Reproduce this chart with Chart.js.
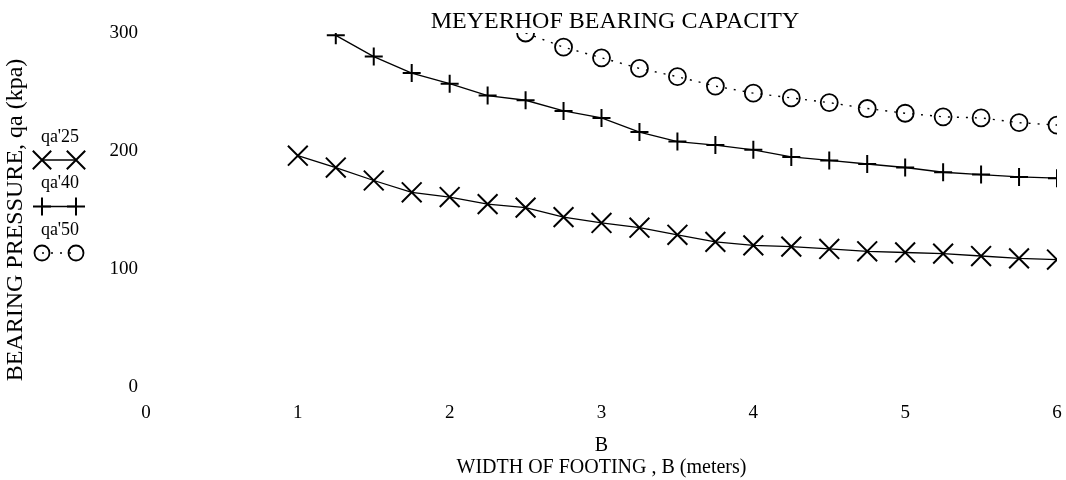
<!DOCTYPE html>
<html>
<head>
<meta charset="utf-8">
<title>Meyerhof bearing capacity</title>
<script src="https://cdn.jsdelivr.net/npm/chart.js@4.4.1/dist/chart.umd.min.js"></script>
<style>
html, body { margin: 0; padding: 0; background: #fff; overflow: hidden; }
#wrap { width: 1066px; height: 480px; position: relative; }
</style>
</head>
<body>
<div id="wrap"><canvas id="meyerhofChart"></canvas></div>
<script>
// footing width B (m)
var widths = [1, 1.25, 1.5, 1.75, 2, 2.25, 2.5, 2.75, 3, 3.25, 3.5, 3.75, 4, 4.25, 4.5, 4.75, 5, 5.25, 5.5, 5.75, 6];

// allowable bearing pressure qa (kpa)
var qa25 = [196, 186, 175, 165, 161, 155, 152, 144, 139, 135, 129, 123, 120, 119, 117, 115, 114, 113, 111, 109, 108];
var qa40 = [null, 298, 280, 266, 257, 247, 243, 234, 228, 216, 208, 205, 201, 195, 192, 189, 186, 182, 180, 178, 177];
var qa50 = [null, null, null, null, null, null, 300, 288, 279, 270, 263, 255, 249, 245, 241, 236, 232, 229, 228, 224, 222];

var xTicks = [0, 1, 2, 3, 4, 5, 6];
var yTicks = [0, 100, 200, 300];

var chartTitle = 'MEYERHOF BEARING CAPACITY';
var yTitle = 'BEARING PRESSURE, qa (kpa)';

var serif = '"Liberation Serif", "Times New Roman", serif';

function toPoints(values) {
    return widths.map(function(b, i) {
        return { x: b, y: values[i] };
    });
}

// titles + legend drawn by hand: the legend sits between the y title and the tick labels
var sideText = {
    id: 'sideText',
    afterDraw: function(chart) {
        var ctx = chart.ctx;
        ctx.save();
        ctx.fillStyle = '#000';
        ctx.textAlign = 'center';
        ctx.textBaseline = 'middle';

        ctx.font = '24px ' + serif;
        ctx.fillText(chartTitle, 615, 22);

        ctx.save();
        ctx.translate(16, 220);
        ctx.rotate(-Math.PI / 2);
        ctx.fillText(yTitle, 0, 0);
        ctx.restore();

        chart.data.datasets.forEach(function(ds, i) {
            var top = 137 + i * 46.5;
            var my = top + 23;
            ctx.fillStyle = '#000';
            ctx.font = '18px ' + serif;
            ctx.fillText(ds.label, 60, top);

            ctx.strokeStyle = '#000';
            ctx.lineWidth = ds.borderWidth;
            ctx.setLineDash(ds.borderDash || []);
            ctx.beginPath();
            ctx.moveTo(42, my);
            ctx.lineTo(76, my);
            ctx.stroke();
            ctx.setLineDash([]);

            ctx.fillStyle = 'rgba(0,0,0,0)';
            var opts = { pointStyle: ds.pointStyle, radius: ds.legendRadius, borderWidth: ds.pointBorderWidth, rotation: 0 };
            ctx.lineWidth = ds.pointBorderWidth;
            Chart.helpers.drawPoint(ctx, opts, 42, my);
            Chart.helpers.drawPoint(ctx, opts, 76, my);
        });
        ctx.restore();
    }
};

var ctxMeyerhof = document.getElementById('meyerhofChart');

var meyerhofChart = new Chart(ctxMeyerhof, {
    type: 'line',
    data: {
        datasets: [
            {
                label: "qa'25",
                data: toPoints(qa25),
                borderColor: '#000',
                borderWidth: 1.3,
                pointStyle: 'crossRot',
                pointRadius: 14,
                legendRadius: 13,
                pointBorderWidth: 2,
                pointBorderColor: '#000',
                pointBackgroundColor: 'rgba(0,0,0,0)',
                clip: 0
            },
            {
                label: "qa'40",
                data: toPoints(qa40),
                borderColor: '#000',
                borderWidth: 1.3,
                pointStyle: 'cross',
                pointRadius: 9,
                legendRadius: 9,
                pointBorderWidth: 2,
                pointBorderColor: '#000',
                pointBackgroundColor: 'rgba(0,0,0,0)',
                clip: 0
            },
            {
                label: "qa'50",
                data: toPoints(qa50),
                borderColor: '#000',
                borderWidth: 1.4,
                borderDash: [2, 7],
                pointStyle: 'circle',
                pointRadius: 8.5,
                legendRadius: 7.5,
                pointBorderWidth: 1.8,
                pointBorderColor: '#000',
                pointBackgroundColor: 'rgba(0,0,0,0)',
                clip: 0
            }
        ]
    },
    options: {
        responsive: true,
        maintainAspectRatio: false,
        animation: false,
        spanGaps: false,
        layout: {
            autoPadding: false,
            padding: { left: 0, right: 9, top: 33, bottom: 0 }
        },
        plugins: {
            legend: { display: false },
            tooltip: { enabled: false },
            title: { display: false }
        },
        scales: {
            x: {
                type: 'linear',
                min: 0,
                max: 6,
                afterBuildTicks: function(scale) {
                    scale.ticks = xTicks.map(function(v) { return { value: v }; });
                },
                afterFit: function(scale) {
                    scale.height = 93;
                },
                grid: { display: false, drawTicks: false },
                border: { display: false },
                ticks: {
                    color: '#000',
                    padding: 0,
                    maxRotation: 0,
                    // tall line box pushes the labels down without widening the right margin
                    font: { family: serif, size: 19, lineHeight: '52px' }
                },
                title: {
                    display: true,
                    text: ['B', 'WIDTH OF FOOTING , B (meters)'],
                    color: '#000',
                    font: { family: serif, size: 20, lineHeight: '22px' },
                    padding: { top: 0, bottom: 1 }
                }
            },
            y: {
                type: 'linear',
                min: 0,
                max: 300,
                afterBuildTicks: function(scale) {
                    scale.ticks = yTicks.map(function(v) { return { value: v }; });
                },
                afterFit: function(scale) {
                    scale.width = 146;
                },
                grid: { display: false, drawTicks: false },
                border: { display: false },
                ticks: {
                    color: '#000',
                    padding: 8,
                    font: { family: serif, size: 19 }
                }
            }
        }
    },
    plugins: [sideText]
});
</script>
</body>
</html>
